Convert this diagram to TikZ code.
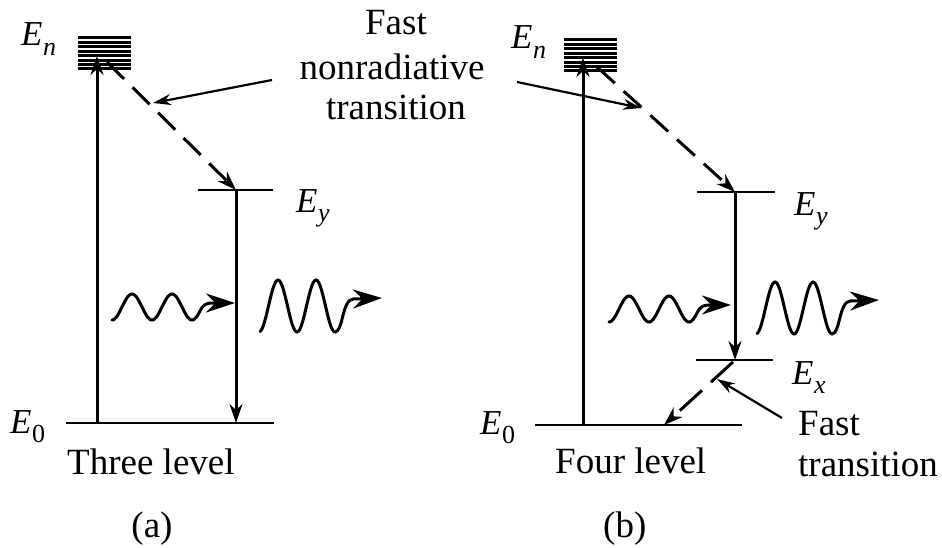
\documentclass[tikz,border=0pt]{standalone}
\usepackage{fontspec}
\setmainfont{Liberation Serif}
\usetikzlibrary{arrows.meta}
\newcommand\Elev[1]{\textit{E}\kern0.5pt\raisebox{-0.28em}{\fontsize{26}{26}\selectfont #1}}
\begin{document}
\begin{tikzpicture}[x=1pt,y=-1pt,
  lvl/.style={line width=2.9pt},
  trans/.style={line width=3pt,-{Stealth[length=19pt,width=13pt]}},
  dtrans/.style={line width=3pt,dash pattern=on 24pt off 12pt,-{Stealth[length=19pt,width=13pt]}},
  pointer/.style={line width=2.2pt,-{Stealth[length=18pt,width=11pt]}},
  wave/.style={line width=3pt,line cap=round,-{Stealth[length=29pt,width=19pt]}},
  txt/.style={inner sep=0pt,font=\fontsize{37}{40}\selectfont},
  elab/.style={inner sep=0pt,font=\fontsize{35}{38}\selectfont}]
\useasboundingbox (0,0) rectangle (942,548);

% ---------- (a) three level ----------
\foreach \yy in {38,42.5,47,51.5,56,60.5,65,69} \draw[line width=3pt] (78,\yy) -- (131,\yy);
\coordinate (aEnb) at (97,56);
\coordinate (aEns) at (107,62);
\coordinate (aE0l) at (66,423);
\coordinate (aE0r) at (274,423);
\coordinate (aE0u) at (97,423);
\coordinate (aE0d) at (236,423);
\coordinate (aEyl) at (198,190);
\coordinate (aEyr) at (273,190);
\coordinate (aEyc) at (236,190);
\draw[lvl] (aE0l) -- (aE0r);
\draw[lvl] (aEyl) -- (aEyr);
\draw[trans] (aE0u) -- (aEnb);
\draw[dtrans] (aEns) -- (aEyc);
\draw[trans] (aEyc) -- (aE0d);

\node[elab,anchor=base west] (aEn) at (21,46) {\Elev{\textit{n}}};
\node[elab,anchor=base west] (aEy) at (296,212) {\Elev{\textit{y}}};
\node[elab,anchor=base west] (aE0) at (10,433) {\Elev{0}};

\coordinate (aw1) at (235,303);
\draw[wave] plot[domain=112:200,samples=80] (\x,{307+13*cos(9*(\x-152))})
   .. controls (203,305) and (206,303) .. (212,303) -- (aw1);
\coordinate (aw2) at (382,298);
\draw[wave] plot[domain=260:335,samples=80] (\x,{306+26*cos(9.4737*(\x-297))})
   .. controls (343,332) and (342,300) .. (353,299) -- (aw2);

\node[txt,anchor=base west] (three) at (67,474) {Three level};
\node[txt,anchor=base] (capa) at (152,537) {(a)};

% ---------- top text ----------
\node[txt,anchor=base] (nr1) at (396,35) {Fast};
\node[txt,anchor=base] (nr2) at (392,80) {nonradiative};
\node[txt,anchor=base] (nr3) at (396,120) {transition};
\coordinate (pl0) at (272,80);
\coordinate (pl1) at (153,103);
\coordinate (pr0) at (517,82);
\coordinate (pr1) at (641,108);
\draw[pointer] (pl0) -- (pl1);
\draw[pointer] (pr0) -- (pr1);

% ---------- (b) four level ----------
\foreach \yy in {40,44.5,49,53.5,58,62.5,67,71} \draw[line width=3pt] (564,\yy) -- (617,\yy);
\coordinate (bEnb) at (583,58);
\coordinate (bEns) at (597,67);
\coordinate (bE0l) at (535,425);
\coordinate (bE0r) at (742,425);
\coordinate (bE0u) at (583,425);
\coordinate (bE0d) at (664,425);
\coordinate (bEyl) at (697,192);
\coordinate (bEyr) at (775,192);
\coordinate (bEyc) at (735,192);
\coordinate (bExl) at (696,360);
\coordinate (bExr) at (773,360);
\coordinate (bExc) at (735,360);
\coordinate (bExs) at (733,362);
\draw[lvl] (bE0l) -- (bE0r);
\draw[lvl] (bEyl) -- (bEyr);
\draw[lvl] (bExl) -- (bExr);
\draw[trans] (bE0u) -- (bEnb);
\draw[dtrans] (bEns) -- (bEyc);
\draw[trans] (bEyc) -- (bExc);
\draw[line width=3pt,dash pattern=on 30pt off 12pt,-{Stealth[length=19pt,width=13pt]}] (bExs) -- (bE0d);

\node[elab,anchor=base west] (bEn) at (511,49) {\Elev{\textit{n}}};
\node[elab,anchor=base west] (bEy) at (794,215) {\Elev{\textit{y}}};
\node[elab,anchor=base west] (bEx) at (792,384) {\Elev{\textit{x}}};
\node[elab,anchor=base west] (bE0) at (480,434) {\Elev{0}};

\begin{scope}[shift={(497,2)}]
\coordinate (bw1) at (234,303);
\draw[wave] plot[domain=112:200,samples=80] (\x,{307+13*cos(9*(\x-152))})
   .. controls (203,305) and (206,303) .. (212,303) -- (bw1);
\coordinate (bw2) at (382,298);
\draw[wave] plot[domain=260:335,samples=80] (\x,{306+26*cos(9.4737*(\x-297))})
   .. controls (343,332) and (342,300) .. (353,299) -- (bw2);
\end{scope}

\coordinate (pf0) at (782,418);
\coordinate (pf1) at (717,379);
\draw[pointer] (pf0) -- (pf1);
\node[txt,anchor=base west] (ft1) at (798,435) {Fast};
\node[txt,anchor=base west] (ft2) at (798,476) {transition};

\node[txt,anchor=base west] (four) at (555,473) {Four level};
\node[txt,anchor=base west] (capb) at (603,537) {(b)};
\end{tikzpicture}
\end{document}
